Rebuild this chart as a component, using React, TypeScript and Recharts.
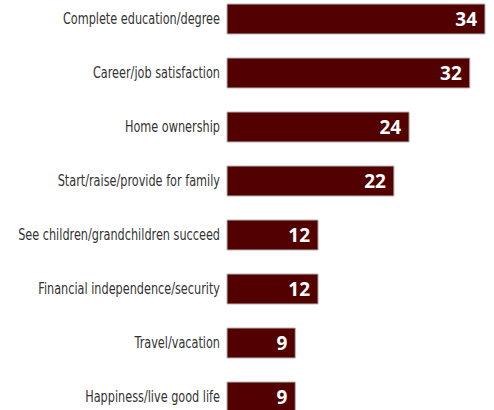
import { BarChart, Bar, XAxis, YAxis, LabelList } from "recharts";

const categories = [
  "Complete education/degree",
  "Career/job satisfaction",
  "Home ownership",
  "Start/raise/provide for family",
  "See children/grandchildren succeed",
  "Financial independence/security",
  "Travel/vacation",
  "Happiness/live good life",
];

const values = [34, 32, 24, 22, 12, 12, 9, 9];

const data = categories.map((name, i) => ({ name, value: values[i] }));

// condensed look: squeeze a regular font horizontally
function CategoryTick({ x, y, payload }: { x?: number; y?: number; payload?: { value: string } }) {
  return (
    <g transform={`translate(${x},${y}) scale(0.76,1)`}>
      <text
        x={0}
        y={0}
        dy="0.3em"
        textAnchor="end"
        fill="#333333"
        fontSize={16.5}
        fontFamily="'DejaVu Sans Condensed', sans-serif"
      >
        {payload?.value}
      </text>
    </g>
  );
}

export default function App() {
  return (
    <div style={{ position: "absolute", top: -8, left: 0 }}>
      <BarChart
        width={494}
        height={432}
        data={data}
        layout="vertical"
        margin={{ top: 0, right: 9, left: 0, bottom: 0 }}
      >
        <XAxis type="number" domain={[0, 34]} hide />
        <YAxis
          type="category"
          dataKey="name"
          width={227}
          axisLine={false}
          tickLine={false}
          tickSize={0}
          tickMargin={7}
          interval={0}
          tick={<CategoryTick />}
        />
        <Bar
          dataKey="value"
          fill="#530000"
          stroke="#b5b5b5"
          strokeWidth={1}
          barSize={30}
          isAnimationActive={false}
        >
          <LabelList
            dataKey="value"
            position="insideRight"
            offset={8}
            fill="#ffffff"
            style={{
              fontFamily: "'Open Sans', sans-serif",
              fontWeight: 700,
              fontSize: 19,
            }}
          />
        </Bar>
      </BarChart>
    </div>
  );
}
